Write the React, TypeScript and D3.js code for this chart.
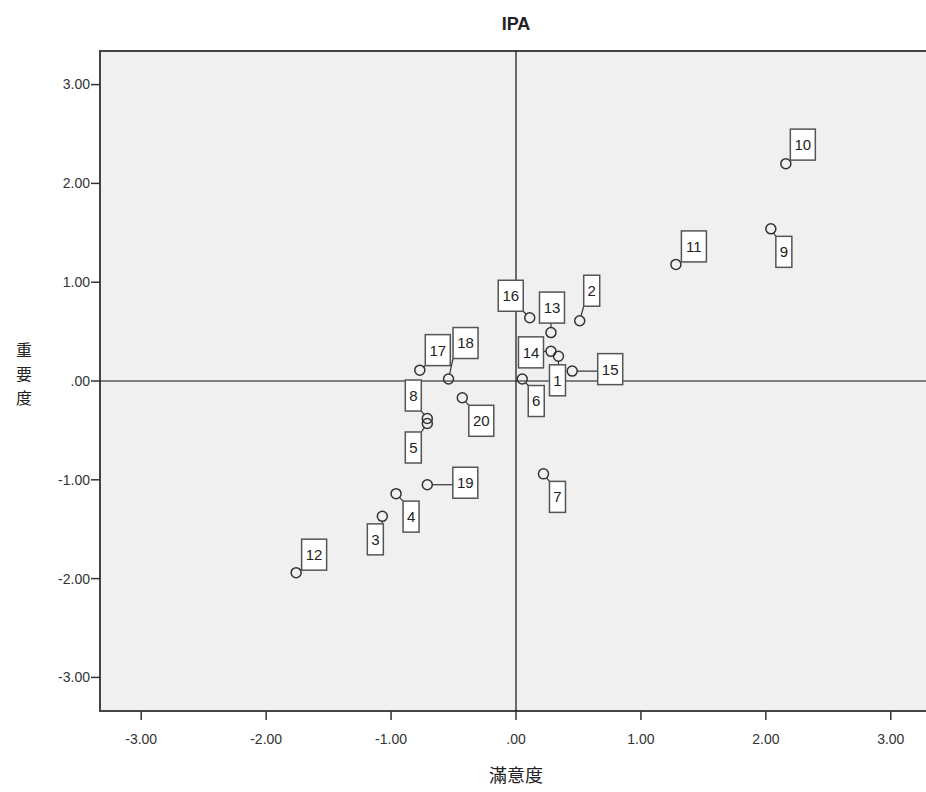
import React from "react";
import * as d3 from "d3";

// 滿意度 (x) and 重要度 (y) per item
const itemIds = [1, 2, 3, 4, 5, 6, 7, 8, 9, 10, 11, 12, 13, 14, 15, 16, 17, 18, 19, 20];
const satisfaction = [0.34, 0.51, -1.07, -0.96, -0.71, 0.05, 0.22, -0.71, 2.04, 2.16, 1.28, -1.76, 0.28, 0.28, 0.45, 0.11, -0.77, -0.54, -0.71, -0.43];
const importance = [0.25, 0.61, -1.37, -1.14, -0.43, 0.02, -0.94, -0.38, 1.54, 2.2, 1.18, -1.94, 0.49, 0.3, 0.1, 0.64, 0.11, 0.02, -1.05, -0.17];
const tickValues = [-3, -2, -1, 0, 1, 2, 3];

// where SPSS dropped each label box, offset from its point (px)
const labelOffsets: Record<number, [number, number]> = {
  1: [-1, 24], 2: [12, -30], 3: [-7, 23], 4: [15, 23], 5: [-14, 24],
  6: [14, 22], 7: [14, 23], 8: [-14, -23], 9: [13, 23], 10: [17, -19],
  11: [18, -18], 12: [18, -18], 13: [1, -25], 14: [-20, 1], 15: [38, -2],
  16: [-19, -22], 17: [18, -20], 18: [17, -36], 19: [38, -2], 20: [19, 23],
};

const W = 926;
const H = 792;
const left = 100, top = 51, right = 932, bottom = 711;

// SPSS style: no leading zero, plain hyphen for minus
const fmt = (v: number) => v.toFixed(2).replace(/^0\./, ".").replace(/^-0\./, "-.");

const App = () => {
  const x = d3.scaleLinear().domain([-3.33, 3.33]).range([left, right]);
  const y = d3.scaleLinear().domain([-3.34, 3.34]).range([bottom, top]);
  const r = 5;

  const points = itemIds.map((id, i) => {
    const cx = x(satisfaction[i]);
    const cy = y(importance[i]);
    const [dx, dy] = labelOffsets[id];
    const bw = String(id).length > 1 ? 25 : 16;
    const bh = 31;
    const bx = cx + dx - bw / 2;
    const by = cy + dy - bh / 2;
    // leader line from circle edge to nearest box point
    const nx = Math.max(bx, Math.min(cx, bx + bw));
    const ny = Math.max(by, Math.min(cy, by + bh));
    const dist = Math.hypot(nx - cx, ny - cy);
    const lead = dist > r + 1.5 ? {
      x1: cx + ((nx - cx) / dist) * r, y1: cy + ((ny - cy) / dist) * r, x2: nx, y2: ny,
    } : null;
    return { id, cx, cy, bx, by, bw, bh, lead };
  });

  return (
    <div style={{ position: "absolute", left: 0, top: 0 }}>
      <svg width={W} height={H} style={{ display: "block", background: "#fff", overflow: "hidden" }}
        fontFamily="Arial, 'Liberation Sans', sans-serif">
        <text x={516} y={30} textAnchor="middle" fontSize={18} fontWeight="bold" fill="#222">IPA</text>

        <rect x={left} y={top} width={right - left} height={bottom - top} fill="#f0f0f0" stroke="#444" strokeWidth={2} />

        {/* reference lines at 0 */}
        <line x1={x(0)} x2={x(0)} y1={top} y2={bottom} stroke="#111" strokeWidth={1.2} />
        <line x1={left} x2={right} y1={y(0)} y2={y(0)} stroke="#111" strokeWidth={1.2} />

        {/* y axis */}
        {tickValues.map((t) => (
          <g key={"y" + t}>
            <line x1={left - 9} x2={left} y1={y(t)} y2={y(t)} stroke="#333" strokeWidth={1.5} />
            <text x={left - 10} y={y(t)} dy="0.35em" textAnchor="end" fontSize={14} fill="#333">{fmt(t)}</text>
          </g>
        ))}
        {/* x axis */}
        {tickValues.map((t) => (
          <g key={"x" + t}>
            <line x1={x(t)} x2={x(t)} y1={bottom} y2={bottom + 9} stroke="#333" strokeWidth={1.5} />
            <text x={x(t)} y={bottom + 33} textAnchor="middle" fontSize={14} fill="#333">{fmt(t)}</text>
          </g>
        ))}

        <text x={516} y={782} textAnchor="middle" fontSize={18} fill="#222"
          fontFamily="'Noto Sans CJK TC', sans-serif">滿意度</text>
        {["重", "要", "度"].map((c, i) => (
          <text key={c} x={24} y={350 + i * 24} dy="0.35em" textAnchor="middle" fontSize={16} fill="#222"
            fontFamily="'Noto Sans CJK TC', sans-serif">{c}</text>
        ))}

        {points.map((p) => (
          <g key={p.id}>
            {p.lead && (
              <line x1={p.lead.x1} y1={p.lead.y1} x2={p.lead.x2} y2={p.lead.y2} stroke="#333" strokeWidth={1.2} />
            )}
            <circle cx={p.cx} cy={p.cy} r={r} fill="none" stroke="#333" strokeWidth={1.5} />
            <rect x={p.bx} y={p.by} width={p.bw} height={p.bh} fill="#fff" stroke="#555" strokeWidth={1.5} />
            <text x={p.bx + p.bw / 2} y={p.by + p.bh / 2} dy="0.36em" textAnchor="middle" fontSize={15} fill="#222">{p.id}</text>
          </g>
        ))}
      </svg>
    </div>
  );
};

export default App;
